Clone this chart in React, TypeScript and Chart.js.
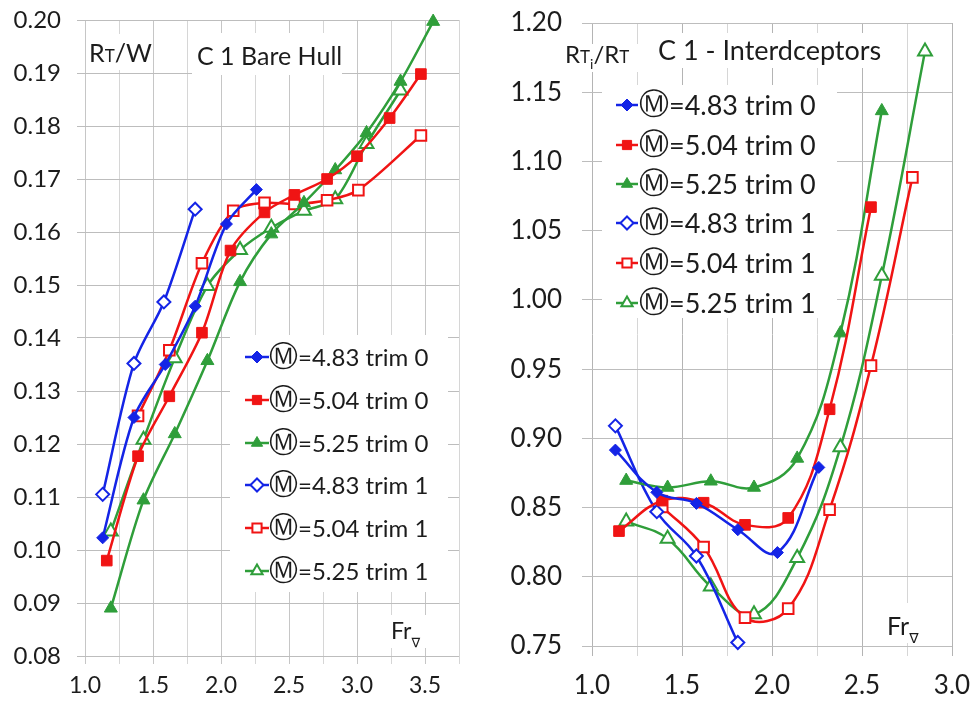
import React, { useEffect, useRef } from 'react';
import { Chart, registerables } from 'chart.js';
Chart.register(...registerables);

// ---------- colours / labels ----------
const BLUE = '#1424e6';
const RED = '#f01414';
const GREEN = '#2f9e3a';
const TXT = '#1c1c1c';

const legendValues = ['=4.83 trim 0', '=5.04 trim 0', '=5.25 trim 0', '=4.83 trim 1', '=5.04 trim 1', '=5.25 trim 1'];
const legendSymbol = 'Ⓜ';

// ---------- left panel: C 1 Bare Hull (RT/W vs Fr) ----------
const bareFr_483_t0 = [1.13, 1.36, 1.59, 1.81, 2.04, 2.26];
const bareRW_483_t0 = [0.1023, 0.125, 0.135, 0.146, 0.1615, 0.168];
const bareFr_504_t0 = [1.16, 1.39, 1.62, 1.86, 2.07, 2.32, 2.54, 2.78, 3.0, 3.24, 3.47];
const bareRW_504_t0 = [0.098, 0.1177, 0.129, 0.141, 0.1565, 0.1637, 0.167, 0.17, 0.1743, 0.1815, 0.1898];
const bareFr_525_t0 = [1.19, 1.43, 1.66, 1.9, 2.14, 2.37, 2.61, 2.84, 3.07, 3.32, 3.56];
const bareRW_525_t0 = [0.089, 0.1094, 0.1219, 0.1357, 0.1506, 0.1596, 0.1655, 0.1717, 0.1787, 0.1884, 0.1997];
const bareFr_483_t1 = [1.13, 1.36, 1.58, 1.81];
const bareRW_483_t1 = [0.1105, 0.1352, 0.1468, 0.1643];
const bareFr_504_t1 = [1.39, 1.62, 1.86, 2.09, 2.32, 2.54, 2.78, 3.01, 3.47];
const bareRW_504_t1 = [0.1253, 0.1377, 0.1541, 0.164, 0.1655, 0.1653, 0.166, 0.1679, 0.1782];
const bareFr_525_t1 = [1.19, 1.43, 1.66, 1.9, 2.14, 2.37, 2.61, 2.84, 3.07, 3.32];
const bareRW_525_t1 = [0.1035, 0.1208, 0.1362, 0.1498, 0.1566, 0.1608, 0.164, 0.1662, 0.1766, 0.1867];

const leftXTicks = [1.0, 1.25, 1.5, 1.75, 2.0, 2.25, 2.5, 2.75, 3.0, 3.25, 3.5, 3.75];
const leftXLabels = ['1.0', '', '1.5', '', '2.0', '', '2.5', '', '3.0', '', '3.5', ''];
const leftYTicks = [0.08, 0.09, 0.1, 0.11, 0.12, 0.13, 0.14, 0.15, 0.16, 0.17, 0.18, 0.19, 0.2];
const leftYLabels = ['0.08', '0.09', '0.10', '0.11', '0.12', '0.13', '0.14', '0.15', '0.16', '0.17', '0.18', '0.19', '0.20'];

// ---------- right panel: C 1 - Interdceptors (RTi/RT vs Fr) ----------
const intFr_483_t0 = [1.13, 1.36, 1.58, 1.81, 2.03, 2.26];
const intRR_483_t0 = [0.8915, 0.861, 0.853, 0.834, 0.8175, 0.879];
const intFr_504_t0 = [1.15, 1.39, 1.62, 1.85, 2.09, 2.32, 2.55];
const intRR_504_t0 = [0.833, 0.855, 0.8535, 0.8375, 0.8425, 0.921, 1.067];
const intFr_525_t0 = [1.19, 1.42, 1.66, 1.9, 2.14, 2.38, 2.61];
const intRR_525_t0 = [0.8695, 0.8645, 0.869, 0.8645, 0.8855, 0.976, 1.1365];
const intFr_483_t1 = [1.13, 1.36, 1.58, 1.81];
const intRR_483_t1 = [0.909, 0.847, 0.815, 0.7525];
const intFr_504_t1 = [1.39, 1.62, 1.85, 2.09, 2.32, 2.55, 2.78];
const intRR_504_t1 = [0.8505, 0.8215, 0.7705, 0.777, 0.8485, 0.9525, 1.0885];
const intFr_525_t1 = [1.19, 1.42, 1.66, 1.9, 2.14, 2.38, 2.61, 2.85];
const intRR_525_t1 = [0.84, 0.8275, 0.793, 0.773, 0.8135, 0.8935, 1.0175, 1.1795];

const rightXTicks = [1.0, 1.25, 1.5, 1.75, 2.0, 2.25, 2.5, 2.75, 3.0];
const rightXLabels = ['1.0', '', '1.5', '', '2.0', '', '2.5', '', '3.0'];
const rightYTicks = [0.75, 0.8, 0.85, 0.9, 0.95, 1.0, 1.05, 1.1, 1.15, 1.2];
const rightYLabels = ['0.75', '0.80', '0.85', '0.90', '0.95', '1.00', '1.05', '1.10', '1.15', '1.20'];

type Sty = { color: string; point: string; filled: boolean; r: number };
const styles: Sty[] = [
  { color: BLUE, point: 'rectRot', filled: true, r: 6 },
  { color: RED, point: 'rect', filled: true, r: 7.5 },
  { color: GREEN, point: 'triangle', filled: true, r: 7.5 },
  { color: BLUE, point: 'rectRot', filled: false, r: 6.5 },
  { color: RED, point: 'rect', filled: false, r: 7.5 },
  { color: GREEN, point: 'triangle', filled: false, r: 8 },
];

function drawMarker(ctx: CanvasRenderingContext2D, st: Sty, x: number, y: number) {
  const r = st.r;
  ctx.beginPath();
  if (st.point === 'rectRot') {
    ctx.moveTo(x, y - r); ctx.lineTo(x + r, y); ctx.lineTo(x, y + r); ctx.lineTo(x - r, y); ctx.closePath();
  } else if (st.point === 'rect') {
    const s = r * Math.SQRT1_2;
    ctx.rect(x - s, y - s, 2 * s, 2 * s);
  } else {
    ctx.moveTo(x, y - r);
    ctx.lineTo(x + r * 0.866, y + r * 0.5);
    ctx.lineTo(x - r * 0.866, y + r * 0.5);
    ctx.closePath();
  }
  ctx.fillStyle = st.filled ? st.color : '#ffffff';
  ctx.fill();
  ctx.strokeStyle = st.color;
  ctx.lineWidth = st.filled ? 1 : 2;
  ctx.stroke();
}

type Seg = { t: string; size: number; dy?: number };
function drawSegs(ctx: CanvasRenderingContext2D, segs: Seg[], x: number, baseline: number) {
  let cx = x;
  ctx.fillStyle = TXT;
  ctx.textAlign = 'left';
  ctx.textBaseline = 'alphabetic';
  for (const s of segs) {
    ctx.font = `${s.size}px Lato, "DejaVu Sans", sans-serif`;
    ctx.fillText(s.t, cx, baseline + (s.dy || 0));
    cx += ctx.measureText(s.t).width;
  }
}

type Box = { x: number; y: number; w: number; h: number };
type Ann = {
  boxes: Box[];
  texts: { segs: Seg[]; x: number; base: number }[];
  legend: { ys: number[]; lineX0: number; lineX1: number; markX: number; textX: number; size: number; symSize: number };
};

function annotationPlugin(ann: Ann) {
  return {
    id: 'ann',
    beforeDatasetsDraw(chart: any) {
      const ctx: CanvasRenderingContext2D = chart.ctx;
      ctx.save();
      ctx.fillStyle = '#ffffff';
      for (const b of ann.boxes) ctx.fillRect(b.x, b.y, b.w, b.h);
      ctx.restore();
    },
    afterDraw(chart: any) {
      const ctx: CanvasRenderingContext2D = chart.ctx;
      ctx.save();
      for (const t of ann.texts) drawSegs(ctx, t.segs, t.x, t.base);
      const L = ann.legend;
      L.ys.forEach((y, i) => {
        const st = styles[i];
        ctx.strokeStyle = st.color;
        ctx.lineWidth = 2.5;
        ctx.beginPath();
        ctx.moveTo(L.lineX0, y);
        ctx.lineTo(L.lineX1, y);
        ctx.stroke();
        drawMarker(ctx, { ...st, r: Math.min(st.r, 6.5) }, L.markX, y);
        ctx.fillStyle = TXT;
        ctx.textAlign = 'left';
        ctx.textBaseline = 'middle';
        ctx.font = `${L.symSize}px "DejaVu Sans", sans-serif`;
        ctx.fillText(legendSymbol, L.textX, y + 1);
        const w = ctx.measureText(legendSymbol).width;
        ctx.font = `${L.size}px Lato, sans-serif`;
        ctx.fillText(legendValues[i], L.textX + w, y + 1);
      });
      ctx.restore();
    },
  };
}

function makeDatasets(xs: number[][], ys: number[][], tension: number) {
  return xs.map((xa, k) => {
    const st = styles[k];
    return {
      label: legendSymbol + legendValues[k],
      data: xa.map((x, i) => ({ x, y: ys[k][i] })),
      showLine: true,
      tension,
      borderColor: st.color,
      backgroundColor: st.filled ? st.color : '#ffffff',
      borderWidth: 2.5,
      pointStyle: st.point,
      pointRadius: st.r,
      pointBorderWidth: st.filled ? 1 : 2,
      pointBorderColor: st.color,
      pointBackgroundColor: st.filled ? st.color : '#ffffff',
      clip: false,
      fill: false,
    };
  });
}

function axisX(ticks: number[], labels: string[], size: number, pad: number, tickLen: number, minorColor: string, majorColor: string, afterH: number) {
  return {
    type: 'linear',
    min: ticks[0],
    max: ticks[ticks.length - 1],
    afterBuildTicks: (s: any) => { s.ticks = ticks.map((v) => ({ value: v })); },
    afterFit: (s: any) => { s.height = afterH; s.paddingLeft = 0; s.paddingRight = 0; s.paddingTop = 0; s.paddingBottom = 0; },
    ticks: {
      autoSkip: false,
      maxRotation: 0,
      padding: pad,
      color: TXT,
      font: { family: 'Lato', size },
      callback: (_v: any, i: number) => labels[i],
    },
    grid: {
      tickLength: tickLen,
      lineWidth: 1,
      color: (c: any) => (labels[c.index] ? majorColor : minorColor),
    },
    border: { display: false },
  };
}

function axisY(ticks: number[], labels: string[], size: number, pad: number, tickLen: number, color: string, afterW: number) {
  return {
    type: 'linear',
    min: ticks[0],
    max: ticks[ticks.length - 1],
    afterBuildTicks: (s: any) => { s.ticks = ticks.map((v) => ({ value: v })); },
    afterFit: (s: any) => { s.width = afterW; s.paddingLeft = 0; s.paddingRight = 0; s.paddingTop = 0; s.paddingBottom = 0; },
    ticks: {
      autoSkip: false,
      padding: pad,
      color: TXT,
      font: { family: 'Lato', size },
      callback: (_v: any, i: number) => labels[i],
    },
    grid: { tickLength: tickLen, lineWidth: 1, color },
    border: { display: false },
  };
}

export default function App() {
  const leftRef = useRef<HTMLCanvasElement>(null);
  const rightRef = useRef<HTMLCanvasElement>(null);

  useEffect(() => {
    const leftAnn: Ann = {
      boxes: [
        { x: 87, y: 34, w: 64, h: 36 },
        { x: 192, y: 33, w: 150, h: 42 },
        { x: 230, y: 335, w: 218, h: 257 },
        { x: 384, y: 615, w: 44, h: 33 },
      ],
      texts: [
        { segs: [{ t: 'R', size: 25 }, { t: 'T', size: 17 }, { t: '/W', size: 25 }], x: 89, base: 62 },
        { segs: [{ t: 'C 1 Bare Hull', size: 25 }], x: 197, base: 65 },
        { segs: [{ t: 'Fr', size: 23 }, { t: '∇', size: 13, dy: 8 }], x: 391, base: 639 },
      ],
      legend: { ys: [357, 400, 443, 485, 528, 571], lineX0: 245, lineX1: 269, markX: 257, textX: 269, size: 24, symSize: 29 },
    };
    const rightAnn: Ann = {
      boxes: [
        { x: 82, y: 44, w: 78, h: 28 },
        { x: 172, y: 33, w: 240, h: 35 },
        { x: 122, y: 85, w: 235, h: 233 },
        { x: 400, y: 603, w: 48, h: 40 },
      ],
      texts: [
        { segs: [{ t: 'R', size: 24 }, { t: 'T', size: 17 }, { t: 'i', size: 14, dy: 6 }, { t: '/R', size: 24 }, { t: 'T', size: 17 }], x: 85, base: 63 },
        { segs: [{ t: 'C 1 - Interdceptors', size: 27 }], x: 178, base: 60 },
        { segs: [{ t: 'Fr', size: 25 }, { t: '∇', size: 14, dy: 8 }], x: 407, base: 635 },
      ],
      legend: { ys: [105, 145, 184, 223, 263, 303], lineX0: 136, lineX1: 158, markX: 147, textX: 159, size: 27, symSize: 30 },
    };

    const left = new Chart(leftRef.current as HTMLCanvasElement, {
      type: 'scatter',
      data: {
        datasets: makeDatasets(
          [bareFr_483_t0, bareFr_504_t0, bareFr_525_t0, bareFr_483_t1, bareFr_504_t1, bareFr_525_t1],
          [bareRW_483_t0, bareRW_504_t0, bareRW_525_t0, bareRW_483_t1, bareRW_504_t1, bareRW_525_t1],
          0.3,
        ) as any,
      },
      options: {
        responsive: false,
        animation: false,
        events: [],
        layout: { padding: { left: 0, right: 11, top: 20, bottom: 0 } },
        plugins: { legend: { display: false }, tooltip: { enabled: false } },
        scales: {
          x: axisX(leftXTicks, leftXLabels, 23, 8, 8, '#d6d6d6', '#c6c6c6', 46) as any,
          y: axisY(leftYTicks, leftYLabels, 24, 16, 8, '#bdbdbd', 85) as any,
        },
      },
      plugins: [annotationPlugin(leftAnn)],
    });

    const right = new Chart(rightRef.current as HTMLCanvasElement, {
      type: 'scatter',
      data: {
        datasets: makeDatasets(
          [intFr_483_t0, intFr_504_t0, intFr_525_t0, intFr_483_t1, intFr_504_t1, intFr_525_t1],
          [intRR_483_t0, intRR_504_t0, intRR_525_t0, intRR_483_t1, intRR_504_t1, intRR_525_t1],
          0.4,
        ) as any,
      },
      options: {
        responsive: false,
        animation: false,
        events: [],
        layout: { padding: { left: 0, right: 21, top: 23, bottom: 0 } },
        plugins: { legend: { display: false }, tooltip: { enabled: false } },
        scales: {
          x: axisX(rightXTicks, rightXLabels, 26, 14, 10, '#d6d6d6', '#b4b4b4', 56) as any,
          y: axisY(rightYTicks, rightYLabels, 26, 20, 10, '#bdbdbd', 112) as any,
        },
      },
      plugins: [annotationPlugin(rightAnn)],
    });

    return () => {
      left.destroy();
      right.destroy();
    };
  }, []);

  return (
    <div style={{ position: 'absolute', left: 0, top: 0, width: 973, height: 702, background: '#ffffff', overflow: 'hidden' }}>
      <canvas ref={leftRef} width={470} height={702} style={{ position: 'absolute', left: 0, top: 0, width: 470, height: 702 }} />
      <canvas ref={rightRef} width={493} height={702} style={{ position: 'absolute', left: 480, top: 0, width: 493, height: 702 }} />
    </div>
  );
}
